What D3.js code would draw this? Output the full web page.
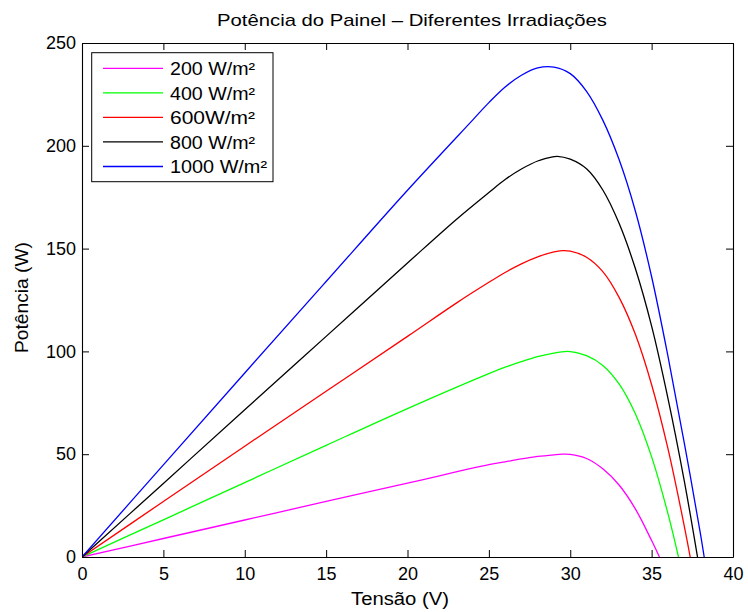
<!DOCTYPE html>
<html>
<head>
<meta charset="utf-8">
<script src="https://cdn.jsdelivr.net/npm/d3@7"></script>
<style>
  html, body { margin: 0; padding: 0; background: #fff; }
  svg text { font-family: "Liberation Sans", Arial, Helvetica, sans-serif; fill: #000; }
</style>
</head>
<body>
<svg id="chart" width="748" height="612"></svg>
<script>
// ---- data ----
const titleText = "Potência do Painel – Diferentes Irradiações";
const xLabelText = "Tensão (V)";
const yLabelText = "Potência (W)";
const labels = ["200 W/m²", "400 W/m²", "600W/m²", "800 W/m²", "1000 W/m²"];
const xTicks = [0, 5, 10, 15, 20, 25, 30, 35, 40];
const yTicks = [0, 50, 100, 150, 200, 250];

const v200 = [0, 5, 10, 15, 20, 25, 26, 27, 28, 29, 29.5, 30, 31, 32, 33, 34, 35, 35.48];
const p200 = [0, 9.0, 18.0, 27.0, 35.9, 44.9, 46.3, 47.7, 48.9, 49.7, 50.0, 49.9, 47.9, 42.9, 35.0, 23.4, 8.0, 0];

const v400 = [0, 5, 10, 15, 20, 25, 26, 27, 28, 29, 29.8, 30, 31, 32, 33, 34, 35, 36, 36.65];
const p400 = [0, 18.1, 36.2, 54.3, 72.2, 89.2, 92.3, 95.0, 97.4, 99.2, 100.0, 99.9, 97.9, 93.2, 84.2, 69.7, 48.7, 21.2, 0];

const v600 = [0, 5, 10, 15, 20, 23, 25, 26, 27, 28, 29, 29.5, 30, 31, 32, 33, 34, 35, 36, 37, 37.37];
const p600 = [0, 27.0, 53.9, 80.6, 107.3, 123.5, 133.6, 138.4, 142.6, 146.0, 148.4, 149.0, 148.8, 145.8, 138.8, 126.3, 108.3, 83.8, 52.8, 15.3, 0];

const v800 = [0, 5, 10, 15, 20, 23, 25, 26, 27, 28, 29, 29.2, 30, 31, 32, 33, 34, 35, 36, 37, 37.82];
const p800 = [0, 35.8, 71.6, 107.3, 143.0, 164.2, 177.3, 183.6, 188.7, 192.6, 194.7, 194.9, 193.5, 188.8, 178.5, 162.3, 140.3, 112.3, 77.3, 37.3, 0];

const v1000 = [0, 5, 10, 15, 20, 24, 25, 26, 27, 28, 29, 30, 31, 32, 33, 34, 35, 36, 37, 38, 38.23];
const p1000 = [0, 44.8, 89.5, 134.0, 178.4, 212.5, 221.0, 228.6, 234.3, 237.9, 238.3, 235.1, 226.5, 212.5, 193.3, 168.3, 136.3, 97.8, 55.8, 11.3, 0];

const voltages = [v200, v400, v600, v800, v1000];
const powers = [p200, p400, p600, p800, p1000];
const colors = ["#ff00ff", "#00ff00", "#ff0000", "#000000", "#0000ff"];

(function draw() {
  const pLeft = 82, pRight = 733, pTop = 43, pBottom = 557;
  const svg = d3.select("#chart");

  const x = d3.scaleLinear().domain([0, 40]).range([pLeft, pRight]);
  const y = d3.scaleLinear().domain([0, 250]).range([pBottom, pTop]);

  const tickLen = 7;
  const fontSize = 18;

  const line = d3.line()
    .x(d => x(d[0]))
    .y(d => y(d[1]))
    .curve(d3.curveCatmullRom.alpha(0.5));

  svg.append("clipPath").attr("id", "plotclip")
    .append("rect").attr("x", pLeft).attr("y", pTop)
    .attr("width", pRight - pLeft).attr("height", pBottom - pTop);

  const plot = svg.append("g").attr("clip-path", "url(#plotclip)");
  voltages.forEach((vs, i) => {
    const pts = vs.map((v, j) => [v, powers[i][j]]);
    plot.append("path")
      .datum(pts)
      .attr("d", line)
      .attr("fill", "none")
      .attr("stroke", colors[i])
      .attr("stroke-width", 1.3)
      .attr("stroke-linejoin", "round");
  });

  function styleAxis(g) {
    g.selectAll(".domain").attr("stroke", "#000").attr("stroke-width", 1.1);
    g.selectAll(".tick line").attr("stroke", "#000").attr("stroke-width", 1);
    g.selectAll(".tick text").attr("font-size", fontSize)
      .attr("font-family", "'Liberation Sans', Arial, sans-serif").attr("fill", "#000");
  }

  svg.append("g")
    .attr("transform", `translate(0,${pBottom})`)
    .call(d3.axisBottom(x).tickValues(xTicks).tickSize(-tickLen).tickSizeOuter(0).tickPadding(10).tickFormat(d3.format("d")))
    .call(styleAxis);

  svg.append("g")
    .attr("transform", `translate(0,${pTop})`)
    .call(d3.axisTop(x).tickValues(xTicks).tickSize(-tickLen).tickSizeOuter(0).tickFormat(""))
    .call(styleAxis);

  svg.append("g")
    .attr("transform", `translate(${pLeft},0)`)
    .call(d3.axisLeft(y).tickValues(yTicks).tickSize(-tickLen).tickSizeOuter(0).tickPadding(6).tickFormat(d3.format("d")))
    .call(styleAxis);

  svg.append("g")
    .attr("transform", `translate(${pRight},0)`)
    .call(d3.axisRight(y).tickValues(yTicks).tickSize(-tickLen).tickSizeOuter(0).tickFormat(""))
    .call(styleAxis);

  svg.append("text")
    .attr("x", 412).attr("y", 26)
    .attr("text-anchor", "middle")
    .attr("font-size", 17)
    .attr("textLength", 390).attr("lengthAdjust", "spacingAndGlyphs")
    .text(titleText);

  svg.append("text")
    .attr("x", 400).attr("y", 605)
    .attr("text-anchor", "middle")
    .attr("font-size", fontSize)
    .attr("textLength", 98).attr("lengthAdjust", "spacingAndGlyphs")
    .text(xLabelText);

  svg.append("text")
    .attr("transform", `translate(28,297.5) rotate(-90)`)
    .attr("text-anchor", "middle")
    .attr("font-size", fontSize)
    .attr("textLength", 111).attr("lengthAdjust", "spacingAndGlyphs")
    .text(yLabelText);

  const legX = 91.7, legY = 52.7, legW = 181.3, legH = 129;
  const rowY0 = 68.3, rowStep = 24.55;
  const legendWidths = [85, 85, 85, 85, 97];
  const leg = svg.append("g");
  leg.append("rect")
    .attr("x", legX).attr("y", legY).attr("width", legW).attr("height", legH)
    .attr("fill", "#fff").attr("stroke", "#000").attr("stroke-width", 1);
  labels.forEach((lab, i) => {
    const ry = rowY0 + i * rowStep;
    leg.append("line")
      .attr("x1", 103).attr("x2", 163).attr("y1", ry).attr("y2", ry)
      .attr("stroke", colors[i]).attr("stroke-width", 1.3);
    leg.append("text")
      .attr("x", 170).attr("y", ry).attr("dy", "0.38em")
      .attr("font-size", fontSize)
      .attr("textLength", legendWidths[i]).attr("lengthAdjust", "spacingAndGlyphs")
      .text(lab);
  });
})();
</script>
</body>
</html>
